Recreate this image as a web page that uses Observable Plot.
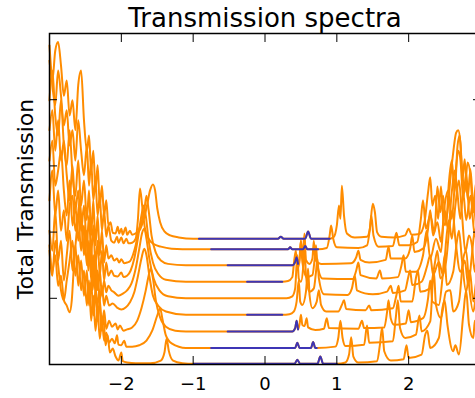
<!DOCTYPE html>
<html>
<head>
<meta charset="utf-8">
<script src="https://cdn.jsdelivr.net/npm/d3@7"></script>
<script src="https://cdn.jsdelivr.net/npm/@observablehq/plot@0.6"></script>
<style>
  html, body { margin: 0; padding: 0; background: #fff; overflow: hidden; }
  svg { max-width: none !important; }
  #chart { width: 475px; height: 398px; overflow: hidden; }
</style>
</head>
<body>
<div id="chart"></div>
<script>
const title = "Transmission spectra";
const yLabel = "Total Transmission";
const xTicks = [-2, -1, 0, 1, 2];
const yTicks = [1, 2, 3, 4];

// Blue (gap) segment of each spectrum, bottom curve first; null = none
const blueStart = [-0.99, -0.75, -0.52, -0.25, null, -0.25, -0.52, -0.75, -0.92];
const blueEnd   = [ 1.00,  0.72,  0.46,  0.24, null,  0.24,  0.46,  0.74,  0.90];

// Spectra as [energy, shifted transmission], bottom curve first
const curve0 = [[-3.00,1.80],[-2.96,1.42],[-2.92,1.65],[-2.88,1.19],[-2.84,1.34],[-2.80,0.97],[-2.76,0.89],[-2.72,0.79],[-2.69,0.97],[-2.66,1.50],[-2.62,2.02],[-2.58,2.48],[-2.55,2.10],[-2.52,1.72],[-2.49,2.02],[-2.46,1.42],[-2.43,1.72],[-2.40,1.12],[-2.37,1.50],[-2.34,0.82],[-2.31,1.12],[-2.28,0.51],[-2.25,0.74],[-2.22,0.29],[-2.19,0.44],[-2.16,0.18],[-2.12,0.24],[-2.08,0.12],[-2.04,0.06],[-2.00,0.18],[-1.98,0.05],[-1.92,0.03],[-1.80,0.02],[-1.60,0.02],[-1.45,0.06],[-1.40,0.18],[-1.37,0.39],[-1.34,0.21],[-1.28,0.06],[-1.15,0.02],[-0.99,0.01],[0.41,0.01],[0.45,0.07],[0.49,0.01],[0.73,0.01],[0.77,0.12],[0.81,0.01],[1.00,0.01],[1.12,0.03],[1.17,0.15],[1.20,0.41],[1.23,0.12],[1.30,0.03],[1.56,0.05],[1.60,0.30],[1.63,0.56],[1.66,0.20],[1.75,0.06],[1.93,0.08],[1.97,0.29],[2.00,0.10],[2.18,0.15],[2.23,0.45],[2.26,0.51],[2.30,0.25],[2.42,0.40],[2.47,0.85],[2.50,0.97],[2.54,0.60],[2.62,0.20],[2.65,0.29],[2.70,0.15],[2.76,0.75],[2.80,1.12],[2.84,0.60],[2.90,0.40],[2.92,0.66],[2.96,0.30],[3.00,0.50]];
const curve1 = [[-3.00,1.72],[-2.96,1.34],[-2.92,1.87],[-2.88,1.50],[-2.84,1.12],[-2.80,0.97],[-2.76,1.27],[-2.72,1.57],[-2.68,1.87],[-2.64,1.34],[-2.60,1.65],[-2.56,1.12],[-2.52,1.42],[-2.48,0.89],[-2.45,1.27],[-2.42,0.66],[-2.39,1.04],[-2.36,0.51],[-2.33,0.82],[-2.30,0.39],[-2.27,0.66],[-2.24,0.36],[-2.21,0.48],[-2.17,0.33],[-2.13,0.39],[-2.09,0.32],[-2.06,0.44],[-2.04,0.30],[-2.00,0.29],[-1.96,0.36],[-1.93,0.27],[-1.85,0.27],[-1.75,0.29],[-1.65,0.36],[-1.57,0.51],[-1.50,0.74],[-1.46,0.85],[-1.43,0.70],[-1.38,0.44],[-1.30,0.32],[-1.10,0.25],[-0.75,0.25],[0.42,0.25],[0.45,0.33],[0.48,0.25],[0.64,0.25],[0.67,0.34],[0.70,0.25],[0.72,0.25],[0.98,0.27],[1.02,0.40],[1.05,0.66],[1.08,0.40],[1.12,0.28],[1.38,0.30],[1.42,0.59],[1.45,0.33],[1.78,0.35],[1.82,0.70],[1.85,0.97],[1.88,0.55],[1.95,0.40],[2.10,0.45],[2.15,0.74],[2.18,0.50],[2.30,0.65],[2.35,1.42],[2.38,0.90],[2.45,0.70],[2.52,1.10],[2.58,1.12],[2.62,0.80],[2.70,0.95],[2.76,1.60],[2.80,1.72],[2.84,1.20],[2.90,0.80],[2.95,1.10],[3.00,0.70]];
const curve2 = [[-3.00,2.02],[-2.96,1.72],[-2.92,2.33],[-2.88,1.57],[-2.84,1.87],[-2.80,1.27],[-2.76,1.65],[-2.72,2.02],[-2.68,1.42],[-2.64,1.80],[-2.60,1.19],[-2.56,1.57],[-2.52,1.04],[-2.48,1.42],[-2.45,0.89],[-2.42,1.27],[-2.39,0.74],[-2.36,1.12],[-2.33,0.66],[-2.30,0.97],[-2.27,0.59],[-2.24,0.82],[-2.21,0.54],[-2.17,0.66],[-2.13,0.57],[-2.08,0.62],[-2.05,0.53],[-2.02,0.59],[-1.97,0.51],[-1.92,0.53],[-1.85,0.56],[-1.78,0.66],[-1.72,0.85],[-1.66,1.12],[-1.62,1.34],[-1.59,1.45],[-1.56,1.30],[-1.52,0.97],[-1.46,0.71],[-1.38,0.57],[-1.25,0.51],[-1.10,0.50],[-0.52,0.50],[0.38,0.50],[0.42,0.55],[0.44,0.66],[0.46,0.53],[0.48,0.60],[0.50,0.75],[0.52,0.60],[0.55,0.58],[0.58,0.70],[0.60,0.56],[0.70,0.52],[0.82,0.54],[0.86,0.70],[0.89,0.55],[1.30,0.54],[1.35,0.66],[1.38,0.55],[1.66,0.56],[1.70,0.80],[1.72,0.97],[1.75,0.70],[1.80,0.60],[1.96,0.62],[2.00,0.82],[2.03,0.64],[2.20,0.70],[2.27,1.00],[2.30,1.27],[2.33,0.95],[2.42,0.90],[2.47,1.30],[2.50,1.65],[2.53,1.20],[2.62,1.40],[2.67,1.85],[2.70,2.02],[2.74,1.60],[2.80,1.10],[2.85,1.42],[2.90,0.95],[2.95,1.30],[3.00,1.00]];
const curve3 = [[-3.00,2.48],[-2.96,2.93],[-2.92,2.25],[-2.88,2.63],[-2.84,2.02],[-2.80,2.33],[-2.76,1.87],[-2.72,2.40],[-2.68,2.55],[-2.64,2.02],[-2.60,2.25],[-2.56,1.72],[-2.52,2.10],[-2.48,1.50],[-2.45,1.87],[-2.42,1.27],[-2.39,1.65],[-2.36,1.04],[-2.33,1.42],[-2.30,0.97],[-2.27,1.19],[-2.24,0.89],[-2.21,1.04],[-2.17,0.89],[-2.12,0.92],[-2.06,0.86],[-2.00,0.83],[-1.94,0.86],[-1.88,0.94],[-1.82,1.09],[-1.77,1.33],[-1.72,1.60],[-1.68,1.75],[-1.65,1.65],[-1.61,1.34],[-1.56,1.04],[-1.48,0.88],[-1.38,0.80],[-1.10,0.75],[-0.25,0.75],[0.24,0.75],[0.34,0.76],[0.40,0.80],[0.44,0.95],[0.47,1.27],[0.49,0.95],[0.52,0.90],[0.57,1.10],[0.60,1.45],[0.62,1.05],[0.66,0.85],[0.72,0.95],[0.75,1.12],[0.78,0.90],[0.85,0.80],[1.02,0.80],[1.07,0.90],[1.10,0.97],[1.13,0.84],[1.40,0.82],[1.45,0.89],[1.48,0.82],[1.78,0.85],[1.83,1.05],[1.86,1.19],[1.89,0.95],[2.05,0.95],[2.10,1.30],[2.13,1.42],[2.16,1.10],[2.30,1.15],[2.36,1.50],[2.40,1.72],[2.44,1.30],[2.52,1.55],[2.57,2.10],[2.61,2.33],[2.65,1.90],[2.72,1.40],[2.78,1.57],[2.83,1.20],[2.88,1.65],[2.92,2.02],[2.96,1.60],[3.00,1.30]];
const curve4 = [[-3.00,3.08],[-2.96,3.38],[-2.92,2.70],[-2.88,2.93],[-2.84,3.23],[-2.80,2.63],[-2.76,2.25],[-2.72,2.78],[-2.68,2.10],[-2.64,2.40],[-2.60,1.87],[-2.56,2.25],[-2.52,1.65],[-2.48,2.02],[-2.45,1.50],[-2.42,1.80],[-2.39,1.27],[-2.36,1.65],[-2.33,1.12],[-2.30,1.42],[-2.27,1.04],[-2.24,1.27],[-2.21,1.09],[-2.18,1.19],[-2.14,1.12],[-2.10,1.09],[-2.04,1.04],[-1.98,1.07],[-1.92,1.12],[-1.86,1.22],[-1.80,1.45],[-1.75,1.75],[-1.71,1.99],[-1.68,2.05],[-1.65,1.90],[-1.61,1.60],[-1.55,1.30],[-1.47,1.12],[-1.35,1.03],[-1.10,1.00],[0.30,1.00],[0.38,1.03],[0.42,1.15],[0.45,1.65],[0.47,1.30],[0.50,1.25],[0.53,1.45],[0.55,1.80],[0.57,1.35],[0.62,1.10],[0.68,1.15],[0.71,1.40],[0.73,1.60],[0.75,1.30],[0.82,1.06],[1.15,1.05],[1.21,1.15],[1.25,1.34],[1.28,1.12],[1.50,1.06],[1.70,1.10],[1.75,1.19],[1.78,1.08],[1.95,1.12],[1.99,1.30],[2.02,1.42],[2.05,1.20],[2.18,1.25],[2.26,1.50],[2.30,1.65],[2.34,1.35],[2.42,1.55],[2.48,1.35],[2.52,1.85],[2.56,2.18],[2.60,1.90],[2.65,2.40],[2.70,2.78],[2.74,2.30],[2.79,1.70],[2.84,1.95],[2.88,1.80],[2.92,1.40],[2.96,1.75],[3.00,1.50]];
const curve5 = [[-3.00,3.54],[-2.96,3.84],[-2.92,3.23],[-2.88,3.69],[-2.84,3.08],[-2.80,3.38],[-2.76,2.86],[-2.72,2.48],[-2.68,3.01],[-2.64,2.33],[-2.60,2.63],[-2.56,2.02],[-2.52,2.40],[-2.48,1.80],[-2.45,2.25],[-2.42,1.65],[-2.39,2.10],[-2.36,1.50],[-2.33,1.87],[-2.30,1.34],[-2.27,1.72],[-2.24,1.27],[-2.21,1.54],[-2.18,1.34],[-2.14,1.42],[-2.10,1.34],[-2.05,1.33],[-2.00,1.39],[-1.97,1.32],[-1.92,1.34],[-1.87,1.42],[-1.82,1.60],[-1.77,1.90],[-1.72,2.25],[-1.69,2.40],[-1.66,2.25],[-1.62,1.87],[-1.56,1.54],[-1.48,1.36],[-1.38,1.28],[-1.10,1.25],[-0.25,1.25],[0.24,1.25],[0.32,1.26],[0.38,1.32],[0.41,1.60],[0.43,1.72],[0.45,1.45],[0.48,1.55],[0.50,1.87],[0.52,1.55],[0.58,1.32],[0.66,1.35],[0.69,1.58],[0.71,1.80],[0.73,1.50],[0.80,1.30],[1.22,1.29],[1.27,1.42],[1.30,1.54],[1.33,1.35],[1.55,1.30],[1.60,1.42],[1.63,1.30],[1.85,1.32],[1.90,1.50],[1.93,1.65],[1.96,1.40],[2.10,1.40],[2.20,1.65],[2.25,2.02],[2.30,1.60],[2.38,1.90],[2.45,1.70],[2.50,2.33],[2.55,2.05],[2.60,2.60],[2.64,2.93],[2.67,2.70],[2.72,2.20],[2.76,2.60],[2.80,2.18],[2.86,2.55],[2.92,1.95],[2.96,2.25],[3.00,1.90]];
const curve6 = [[-3.00,3.99],[-2.96,4.44],[-2.92,3.76],[-2.88,3.46],[-2.84,3.99],[-2.80,3.31],[-2.76,3.01],[-2.72,3.54],[-2.68,2.86],[-2.64,2.55],[-2.60,3.08],[-2.56,2.40],[-2.52,2.78],[-2.48,2.18],[-2.45,2.63],[-2.42,1.95],[-2.39,2.48],[-2.36,1.80],[-2.33,2.25],[-2.30,1.65],[-2.27,2.02],[-2.24,1.54],[-2.21,1.80],[-2.18,1.60],[-2.14,1.65],[-2.10,1.57],[-2.06,1.60],[-2.03,1.54],[-2.00,1.59],[-1.96,1.53],[-1.92,1.54],[-1.88,1.56],[-1.84,1.65],[-1.80,1.80],[-1.76,2.02],[-1.72,2.15],[-1.68,2.33],[-1.65,2.55],[-1.62,2.33],[-1.58,1.95],[-1.52,1.69],[-1.45,1.57],[-1.35,1.52],[-1.10,1.50],[-0.52,1.50],[0.38,1.50],[0.42,1.55],[0.44,1.62],[0.46,1.52],[0.48,1.60],[0.50,1.87],[0.52,1.60],[0.55,1.98],[0.57,1.58],[0.62,1.52],[0.66,1.60],[0.68,1.87],[0.70,1.58],[0.78,1.52],[1.20,1.53],[1.27,1.62],[1.30,1.72],[1.33,1.58],[1.45,1.54],[1.68,1.58],[1.72,1.78],[1.75,1.60],[1.95,1.60],[2.02,1.75],[2.05,1.95],[2.08,1.70],[2.20,1.75],[2.27,2.05],[2.30,2.33],[2.34,1.95],[2.40,2.15],[2.45,1.85],[2.50,2.40],[2.55,2.63],[2.60,2.20],[2.65,2.85],[2.69,3.23],[2.72,3.10],[2.76,2.50],[2.80,2.90],[2.85,2.20],[2.90,2.48],[2.95,2.00],[3.00,2.30]];
const curve7 = [[-3.00,4.82],[-2.96,4.22],[-2.92,3.92],[-2.88,4.44],[-2.84,4.06],[-2.80,3.61],[-2.76,3.84],[-2.72,3.31],[-2.68,3.54],[-2.64,3.08],[-2.60,3.69],[-2.56,3.23],[-2.52,2.86],[-2.48,3.31],[-2.45,2.70],[-2.42,3.08],[-2.39,2.48],[-2.36,2.78],[-2.33,2.25],[-2.30,2.55],[-2.27,2.02],[-2.24,2.33],[-2.21,1.93],[-2.18,2.10],[-2.14,1.87],[-2.10,1.84],[-2.06,1.93],[-2.04,1.84],[-2.00,1.92],[-1.97,1.83],[-1.93,1.90],[-1.90,1.83],[-1.85,1.84],[-1.80,1.90],[-1.77,2.18],[-1.74,2.66],[-1.71,2.40],[-1.67,2.05],[-1.62,1.90],[-1.55,1.82],[-1.45,1.78],[-1.30,1.75],[-1.00,1.74],[-0.75,1.74],[0.32,1.74],[0.35,1.77],[0.38,1.74],[0.53,1.74],[0.56,1.79],[0.59,1.74],[0.74,1.74],[0.86,1.76],[0.90,1.95],[0.92,2.10],[0.95,1.90],[1.00,1.77],[1.30,1.76],[1.42,1.80],[1.46,2.05],[1.48,2.25],[1.51,1.95],[1.58,1.78],[1.78,1.79],[1.83,1.99],[1.87,1.80],[2.00,1.80],[2.12,1.85],[2.17,2.20],[2.20,2.48],[2.24,2.05],[2.30,2.25],[2.36,2.00],[2.40,2.69],[2.44,2.30],[2.48,2.55],[2.52,2.10],[2.56,2.75],[2.60,3.08],[2.64,2.60],[2.68,3.30],[2.71,3.46],[2.74,3.00],[2.78,2.60],[2.82,3.05],[2.86,2.86],[2.90,2.30],[2.94,2.60],[2.97,2.48],[3.00,2.20]];
const curve8 = [[-3.00,4.59],[-2.96,4.29],[-2.92,4.74],[-2.88,4.87],[-2.84,4.52],[-2.80,4.06],[-2.76,4.29],[-2.72,3.76],[-2.68,3.99],[-2.64,3.54],[-2.60,4.22],[-2.56,4.44],[-2.52,3.69],[-2.48,3.23],[-2.45,3.46],[-2.42,2.93],[-2.39,3.23],[-2.36,2.63],[-2.33,3.01],[-2.30,2.40],[-2.27,2.70],[-2.24,2.25],[-2.21,2.48],[-2.18,2.10],[-2.15,2.15],[-2.12,1.99],[-2.08,1.98],[-2.05,2.08],[-2.03,1.98],[-2.00,2.05],[-1.98,1.96],[-1.94,2.07],[-1.92,1.96],[-1.88,2.02],[-1.85,1.96],[-1.80,1.98],[-1.75,2.02],[-1.70,2.15],[-1.65,2.36],[-1.60,2.63],[-1.56,2.72],[-1.53,2.63],[-1.50,2.36],[-1.46,2.15],[-1.40,2.01],[-1.32,1.95],[-1.20,1.92],[-1.00,1.90],[-0.92,1.90],[0.18,1.90],[0.22,1.93],[0.26,1.90],[0.56,1.90],[0.60,2.01],[0.64,1.90],[0.90,1.90],[0.96,1.93],[1.00,2.10],[1.03,2.40],[1.05,2.20],[1.07,2.70],[1.10,2.25],[1.14,1.98],[1.25,1.92],[1.42,1.93],[1.46,2.05],[1.50,2.43],[1.53,2.30],[1.56,2.00],[1.62,1.93],[1.80,1.92],[1.95,1.95],[2.00,2.05],[2.04,1.96],[2.15,1.97],[2.22,2.15],[2.27,2.60],[2.30,2.83],[2.33,2.40],[2.37,2.55],[2.41,2.20],[2.45,2.69],[2.49,2.10],[2.54,2.30],[2.58,2.80],[2.62,3.20],[2.66,3.50],[2.69,3.54],[2.72,3.35],[2.75,2.80],[2.78,3.10],[2.82,2.50],[2.86,2.95],[2.90,2.40],[2.94,2.75],[2.98,2.30],[3.00,2.50]];

const curves = [curve0, curve1, curve2, curve3, curve4, curve5, curve6, curve7, curve8];

const rows = curves.flatMap((c, k) => c.map(([x, y]) => ({k, x, y})));
const blueRows = rows.filter(d => blueStart[d.k] !== null && d.x >= blueStart[d.k] - 1e-9 && d.x <= blueEnd[d.k] + 1e-9);

const orange = "#ff8c00";
const blue = "#3d35b5";
const font = "DejaVu Sans";

const chart = Plot.plot({
  width: 490,
  height: 398,
  marginLeft: 49,
  marginRight: 10,
  marginTop: 33,
  marginBottom: 34,
  style: {fontFamily: font, background: "white", color: "black"},
  x: {domain: [-3, 3]},
  y: {domain: [0, 5]},
  marks: [
    Plot.line(rows, {x: "x", y: "y", z: "k", stroke: orange, strokeWidth: 2, curve: "monotone-x"}),
    Plot.line(blueRows, {x: "x", y: "y", z: "k", stroke: blue, strokeWidth: 2, curve: "monotone-x"}),
    Plot.frame({stroke: "black", strokeWidth: 1.5}),
    Plot.axisX({anchor: "bottom", ticks: xTicks, tickSize: -8, tickPadding: 21, fontSize: 18, tickFormat: d3.format("d"), label: null, strokeWidth: 1}),
    Plot.axisX({anchor: "top", ticks: xTicks, tickSize: -8, tickFormat: () => "", label: null, strokeWidth: 1}),
    Plot.axisY({anchor: "left", ticks: yTicks, tickSize: -8, tickFormat: () => "", label: null, strokeWidth: 1}),
    Plot.axisY({anchor: "right", ticks: yTicks, tickSize: -8, tickFormat: () => "", label: null, strokeWidth: 1}),
    Plot.text([title], {text: d => d, frameAnchor: "top", lineAnchor: "bottom", dy: -7, fontSize: 26, fill: "black"}),
    Plot.text([yLabel], {text: d => d, frameAnchor: "left", rotate: -90, dx: -24, textAnchor: "middle", lineAnchor: "middle", fontSize: 22, fill: "black"})
  ]
});
document.getElementById("chart").appendChild(chart);
</script>
</body>
</html>
